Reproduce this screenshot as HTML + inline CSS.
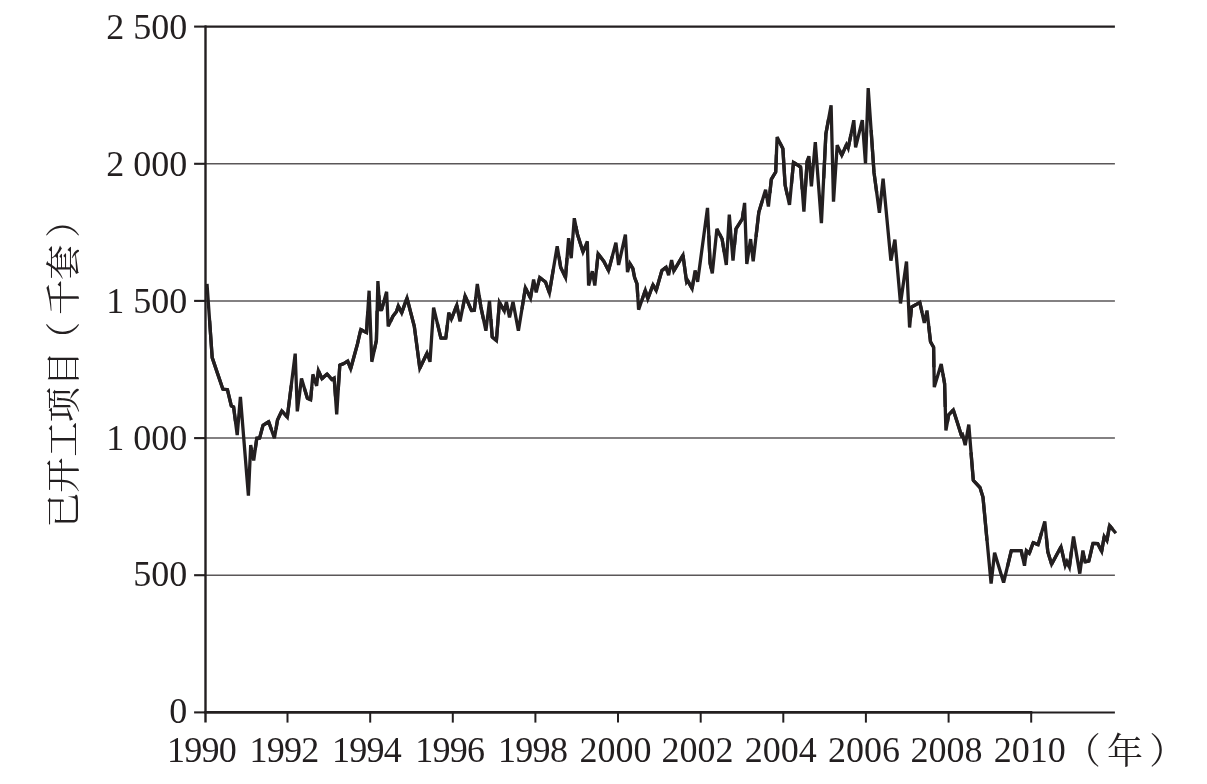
<!DOCTYPE html>
<html lang="zh"><head><meta charset="utf-8"><title>已开工项目</title>
<style>html,body{margin:0;padding:0;background:#fff}svg{display:block}</style></head>
<body>
<svg width="1207" height="784" viewBox="0 0 1207 784">
<rect width="1207" height="784" fill="#fff"/>
<line x1="205" x2="1114.9" y1="575.2" y2="575.2" stroke="#5a5758" stroke-width="1.5"/>
<line x1="205" x2="1114.9" y1="438.1" y2="438.1" stroke="#5a5758" stroke-width="1.5"/>
<line x1="205" x2="1114.9" y1="300.9" y2="300.9" stroke="#5a5758" stroke-width="1.5"/>
<line x1="205" x2="1114.9" y1="163.8" y2="163.8" stroke="#5a5758" stroke-width="1.5"/>
<line x1="205" x2="1114.9" y1="26.65" y2="26.65" stroke="#231f20" stroke-width="2.2"/>
<line x1="194.1" x2="205.5" y1="712.4" y2="712.4" stroke="#231f20" stroke-width="2.1"/>
<line x1="194.1" x2="205.5" y1="575.2" y2="575.2" stroke="#231f20" stroke-width="2.1"/>
<line x1="194.1" x2="205.5" y1="438.1" y2="438.1" stroke="#231f20" stroke-width="2.1"/>
<line x1="194.1" x2="205.5" y1="300.9" y2="300.9" stroke="#231f20" stroke-width="2.1"/>
<line x1="194.1" x2="205.5" y1="163.8" y2="163.8" stroke="#231f20" stroke-width="2.1"/>
<line x1="194.1" x2="205.5" y1="26.6" y2="26.6" stroke="#231f20" stroke-width="2.1"/>
<line x1="205.5" x2="205.5" y1="25.6" y2="722.6" stroke="#231f20" stroke-width="2.4"/>
<line x1="204.3" x2="1032.3" y1="712.4" y2="712.4" stroke="#231f20" stroke-width="2.8"/>
<line x1="1032" x2="1114.9" y1="712.4" y2="712.4" stroke="#231f20" stroke-width="2"/>
<line x1="287.5" x2="287.5" y1="712" y2="722.6" stroke="#231f20" stroke-width="2"/>
<line x1="370.2" x2="370.2" y1="712" y2="722.6" stroke="#231f20" stroke-width="2"/>
<line x1="452.8" x2="452.8" y1="712" y2="722.6" stroke="#231f20" stroke-width="2"/>
<line x1="535.4" x2="535.4" y1="712" y2="722.6" stroke="#231f20" stroke-width="2"/>
<line x1="618.0" x2="618.0" y1="712" y2="722.6" stroke="#231f20" stroke-width="2"/>
<line x1="700.7" x2="700.7" y1="712" y2="722.6" stroke="#231f20" stroke-width="2"/>
<line x1="783.3" x2="783.3" y1="712" y2="722.6" stroke="#231f20" stroke-width="2"/>
<line x1="865.9" x2="865.9" y1="712" y2="722.6" stroke="#231f20" stroke-width="2"/>
<line x1="948.6" x2="948.6" y1="712" y2="722.6" stroke="#231f20" stroke-width="2"/>
<line x1="1031.2" x2="1031.2" y1="712" y2="722.6" stroke="#231f20" stroke-width="2"/>
<polyline points="207.0,283.8 212.2,357.6 222.9,389.2 227.4,389.6 231.3,405.9 233.6,406.9 237.2,435.1 240.4,396.8 248.4,495.6 250.7,445.0 253.7,460.4 256.8,438.2 259.6,438.2 263.0,425.3 268.7,421.7 274.4,438.2 277.5,420.1 281.8,410.9 287.3,417.2 295.2,353.6 297.3,411.4 301.5,378.5 307.4,398.3 310.6,399.8 312.9,374.3 316.6,385.9 318.4,370.7 322.0,378.7 327.1,374.0 331.9,379.6 334.2,378.1 336.7,414.4 339.8,365.1 343.7,363.6 347.7,361.1 350.7,368.8 357.5,343.9 360.8,329.5 366.5,332.6 369.1,290.7 371.8,361.8 376.4,340.4 377.9,281.1 379.8,309.7 381.6,309.7 386.6,291.8 388.2,326.4 392.9,316.3 396.4,311.8 398.3,305.9 401.7,312.9 407.0,298.0 414.3,326.4 419.8,368.3 427.0,353.2 430.0,361.8 433.6,307.7 440.9,338.1 445.8,338.1 448.8,312.5 451.4,319.1 456.8,305.2 460.0,321.4 465.1,295.9 471.5,310.5 474.3,310.4 477.3,283.9 480.9,307.1 485.9,330.7 489.5,300.9 492.2,337.0 496.4,340.6 499.4,302.3 504.3,311.0 506.4,301.8 509.5,317.5 513.0,301.8 518.4,330.7 525.4,287.8 530.5,298.0 533.6,279.5 536.2,292.5 539.7,277.5 545.5,282.0 549.4,292.8 557.2,246.2 560.7,267.4 565.5,277.5 568.6,238.2 571.2,258.2 574.3,218.2 577.5,234.6 583.0,252.0 587.3,241.4 588.6,285.5 592.3,271.2 594.8,285.5 598.1,253.8 603.9,261.4 608.5,270.6 615.9,242.7 618.6,265.0 625.4,234.6 627.5,272.1 629.9,263.5 632.9,268.6 634.6,277.5 637.0,283.8 638.6,309.6 645.3,290.3 647.8,298.7 653.0,284.8 656.2,290.5 661.9,270.5 666.1,267.2 668.6,275.2 671.6,260.1 673.8,271.0 683.0,255.2 686.6,282.1 687.7,280.5 692.1,288.6 695.1,270.4 697.6,281.9 707.5,207.9 710.1,263.3 712.3,273.3 716.9,228.8 722.1,239.1 726.3,265.0 729.3,214.6 733.0,260.6 736.0,228.9 742.3,218.9 744.6,202.9 746.8,264.0 750.6,239.1 753.2,261.2 758.8,212.3 765.6,189.7 768.4,206.6 771.3,179.3 775.7,172.0 777.1,137.1 782.9,148.8 785.1,185.0 789.5,204.8 793.5,162.4 800.6,167.0 803.9,211.7 807.1,161.6 808.9,156.2 811.4,186.4 815.3,142.1 821.4,223.1 825.9,133.7 831.1,105.4 833.5,201.6 837.2,145.2 841.8,155.2 846.5,144.6 848.2,148.2 853.8,120.2 855.6,147.3 862.3,120.2 865.5,163.5 868.2,88.0 874.0,172.4 879.4,212.8 883.1,178.7 890.9,260.7 894.9,239.6 900.5,303.4 906.5,261.5 909.6,327.5 911.5,307.1 919.8,302.4 924.3,323.0 927.0,310.5 930.5,341.7 933.6,347.3 934.3,387.1 941.2,364.0 944.6,383.6 945.9,430.4 948.7,414.8 953.3,409.9 961.4,435.4 962.5,434.6 965.2,445.2 968.8,424.6 973.3,480.4 980.0,487.5 983.0,497.3 991.1,583.6 994.6,552.7 1003.6,582.5 1011.3,550.7 1021.2,550.7 1024.5,565.7 1026.4,550.7 1029.3,553.4 1033.2,542.6 1038.1,544.8 1044.8,521.5 1047.8,551.8 1051.6,564.2 1061.0,546.8 1065.2,565.5 1066.9,561.5 1069.4,567.0 1073.5,536.5 1079.8,573.6 1082.9,550.5 1085.1,561.8 1088.8,561.1 1092.9,543.5 1097.7,543.6 1101.7,551.4 1104.2,536.5 1106.9,540.7 1109.6,525.6 1115.9,533.3" fill="none" stroke="#231f20" stroke-width="3.3" stroke-linejoin="bevel"/>
<path d="M209.6,320.7L212.2,357.6L217.5,373.4M217.5,373.4L222.9,389.2L225.1,389.4M225.1,389.4L227.4,389.6L229.4,397.8M229.4,397.8L231.3,405.9L232.5,406.4M232.5,406.4L233.6,406.9L235.4,421.0M255.2,449.3L256.8,438.2L258.2,438.2M258.2,438.2L259.6,438.2L261.3,431.7M261.3,431.7L263.0,425.3L265.9,423.5M265.9,423.5L268.7,421.7L271.6,430.0M276.0,429.2L277.5,420.1L279.6,415.5M279.6,415.5L281.8,410.9L284.5,414.0M284.5,414.0L287.3,417.2L291.3,385.4M304.4,388.4L307.4,398.3L309.0,399.1M309.0,399.1L310.6,399.8L311.8,387.1M317.5,378.3L318.4,370.7L320.2,374.7M320.2,374.7L322.0,378.7L324.5,376.3M324.5,376.3L327.1,374.0L329.5,376.8M329.5,376.8L331.9,379.6L333.0,378.8M333.0,378.8L334.2,378.1L335.5,396.3M338.2,389.8L339.8,365.1L341.8,364.4M341.8,364.4L343.7,363.6L345.7,362.4M345.7,362.4L347.7,361.1L349.2,364.9M349.2,364.9L350.7,368.8L354.1,356.3M354.1,356.3L357.5,343.9L359.1,336.7M359.1,336.7L360.8,329.5L363.6,331.1M363.6,331.1L366.5,332.6L367.8,311.7M374.1,351.1L376.4,340.4L377.1,310.7M378.9,295.4L379.8,309.7L380.7,309.7M380.7,309.7L381.6,309.7L384.1,300.8M390.6,321.3L392.9,316.3L394.6,314.0M394.6,314.0L396.4,311.8L397.4,308.9M397.4,308.9L398.3,305.9L400.0,309.4M400.0,309.4L401.7,312.9L404.3,305.4M404.3,305.4L407.0,298.0L410.6,312.2M410.6,312.2L414.3,326.4L417.1,347.4M417.1,347.4L419.8,368.3L423.4,360.8M423.4,360.8L427.0,353.2L428.5,357.5M437.3,322.9L440.9,338.1L443.4,338.1M443.4,338.1L445.8,338.1L447.3,325.3M450.1,315.8L451.4,319.1L454.1,312.2M454.1,312.2L456.8,305.2L458.4,313.3M462.6,308.7L465.1,295.9L468.3,303.2M468.3,303.2L471.5,310.5L472.9,310.4M472.9,310.4L474.3,310.4L475.8,297.1M479.1,295.5L480.9,307.1L483.4,318.9M490.9,319.0L492.2,337.0L494.3,338.8M494.3,338.8L496.4,340.6L497.9,321.4M497.9,321.4L499.4,302.3L501.9,306.7M501.9,306.7L504.3,311.0L505.3,306.4M521.9,309.2L525.4,287.8L528.0,292.9M528.0,292.9L530.5,298.0L532.0,288.7M538.0,285.0L539.7,277.5L542.6,279.8M542.6,279.8L545.5,282.0L547.4,287.4M547.4,287.4L549.4,292.8L553.3,269.5M559.0,256.8L560.7,267.4L563.1,272.4M563.1,272.4L565.5,277.5L567.1,257.8M575.9,226.4L577.5,234.6L580.3,243.3M580.3,243.3L583.0,252.0L585.2,246.7M596.5,269.6L598.1,253.8L601.0,257.6M601.0,257.6L603.9,261.4L606.2,266.0M606.2,266.0L608.5,270.6L612.2,256.7M628.7,267.8L629.9,263.5L631.4,266.0M631.4,266.0L632.9,268.6L633.7,273.1M633.7,273.1L634.6,277.5L635.8,280.6M635.8,280.6L637.0,283.8L637.8,296.7M642.0,300.0L645.3,290.3L646.6,294.5M646.6,294.5L647.8,298.7L650.4,291.8M650.4,291.8L653.0,284.8L654.6,287.6M654.6,287.6L656.2,290.5L659.0,280.5M659.0,280.5L661.9,270.5L664.0,268.9M664.0,268.9L666.1,267.2L667.4,271.2M672.7,265.6L673.8,271.0L678.4,263.1M678.4,263.1L683.0,255.2L684.8,268.7M684.8,268.7L686.6,282.1L687.2,281.3M687.2,281.3L687.7,280.5L689.9,284.6M689.9,284.6L692.1,288.6L693.6,279.5M708.8,235.6L710.1,263.3L711.2,268.3M719.5,234.0L722.1,239.1L724.2,252.1M734.5,244.8L736.0,228.9L739.2,223.9M739.2,223.9L742.3,218.9L743.4,210.9M756.0,236.8L758.8,212.3L762.2,201.0M769.9,193.0L771.3,179.3L773.5,175.6M773.5,175.6L775.7,172.0L776.4,154.5M780.0,143.0L782.9,148.8L784.0,166.9M784.0,166.9L785.1,185.0L787.3,194.9M791.5,183.6L793.5,162.4L797.1,164.7M797.1,164.7L800.6,167.0L802.2,189.3M805.5,186.7L807.1,161.6L808.0,158.9M823.7,178.4L825.9,133.7L828.5,119.6M839.5,150.2L841.8,155.2L844.2,149.9M844.2,149.9L846.5,144.6L847.4,146.4M847.4,146.4L848.2,148.2L851.0,134.2M871.1,130.2L874.0,172.4L876.7,192.6M910.6,317.3L911.5,307.1L915.7,304.8M915.7,304.8L919.8,302.4L922.1,312.7M928.7,326.1L930.5,341.7L932.0,344.5M932.0,344.5L933.6,347.3L933.9,367.2M942.9,373.8L944.6,383.6L945.2,407.0M947.3,422.6L948.7,414.8L951.0,412.3M951.0,412.3L953.3,409.9L957.4,422.6M957.4,422.6L961.4,435.4L962.0,435.0M962.0,435.0L962.5,434.6L963.9,439.9M971.0,452.5L973.3,480.4L976.6,483.9M976.6,483.9L980.0,487.5L981.5,492.4M981.5,492.4L983.0,497.3L987.0,540.5M1007.5,566.6L1011.3,550.7L1016.2,550.7M1016.2,550.7L1021.2,550.7L1022.8,558.2M1025.5,558.2L1026.4,550.7L1027.8,552.0M1027.8,552.0L1029.3,553.4L1031.2,548.0M1031.2,548.0L1033.2,542.6L1035.7,543.7M1035.7,543.7L1038.1,544.8L1041.4,533.2M1046.3,536.6L1047.8,551.8L1049.7,558.0M1049.7,558.0L1051.6,564.2L1056.3,555.5M1056.3,555.5L1061.0,546.8L1063.1,556.1M1063.1,556.1L1065.2,565.5L1066.0,563.5M1066.0,563.5L1066.9,561.5L1068.2,564.3M1068.2,564.3L1069.4,567.0L1071.4,551.8M1084.0,556.1L1085.1,561.8L1087.0,561.4M1087.0,561.4L1088.8,561.1L1090.9,552.3M1090.9,552.3L1092.9,543.5L1095.3,543.5M1095.3,543.5L1097.7,543.6L1099.7,547.5M1099.7,547.5L1101.7,551.4L1102.9,544.0M1102.9,544.0L1104.2,536.5L1105.5,538.6M1105.5,538.6L1106.9,540.7L1108.2,533.2M1108.2,533.2L1109.6,525.6L1112.7,529.4" fill="none" stroke="#231f20" stroke-width="3.3" stroke-linejoin="miter" stroke-miterlimit="6"/>
<g font-family="'Liberation Serif', 'Noto Serif CJK SC', serif" font-size="36" fill="#231f20">
<text x="187.3" y="723.0" text-anchor="end">0</text>
<text x="187.3" y="586.1" text-anchor="end">500</text>
<text x="187.3" y="449.8" text-anchor="end">1 000</text>
<text x="187.3" y="312.6" text-anchor="end">1 500</text>
<text x="187.3" y="175.8" text-anchor="end">2 000</text>
<text x="187.3" y="38.8" text-anchor="end">2 500</text>
<text x="201.5" y="762.3" text-anchor="middle" letter-spacing="-0.7">1990</text>
<text x="284.0" y="762.3" text-anchor="middle" letter-spacing="-0.7">1992</text>
<text x="366.5" y="762.3" text-anchor="middle" letter-spacing="-0.7">1994</text>
<text x="449.8" y="762.3" text-anchor="middle" letter-spacing="-0.7">1996</text>
<text x="532.6" y="762.3" text-anchor="middle" letter-spacing="-0.7">1998</text>
<text x="615.5" y="762.3" text-anchor="middle">2000</text>
<text x="697.6" y="762.3" text-anchor="middle">2002</text>
<text x="780.8" y="762.3" text-anchor="middle">2004</text>
<text x="864.0" y="762.3" text-anchor="middle">2006</text>
<text x="946.5" y="762.3" text-anchor="middle">2008</text>
<text x="1029.7" y="762.3" text-anchor="middle">2010</text>
<text y="763.7" font-size="36" x="1064.7 1106.9 1149.2">（年）</text>
<text transform="translate(75.9,0) rotate(-90)" font-size="35.2" x="-527.85 -492.65 -456.85 -422.35 -386.25 -356.90 -315.10 -279.80 -237.70">已开工项目（千套）</text>
</g>
</svg>
</body></html>
